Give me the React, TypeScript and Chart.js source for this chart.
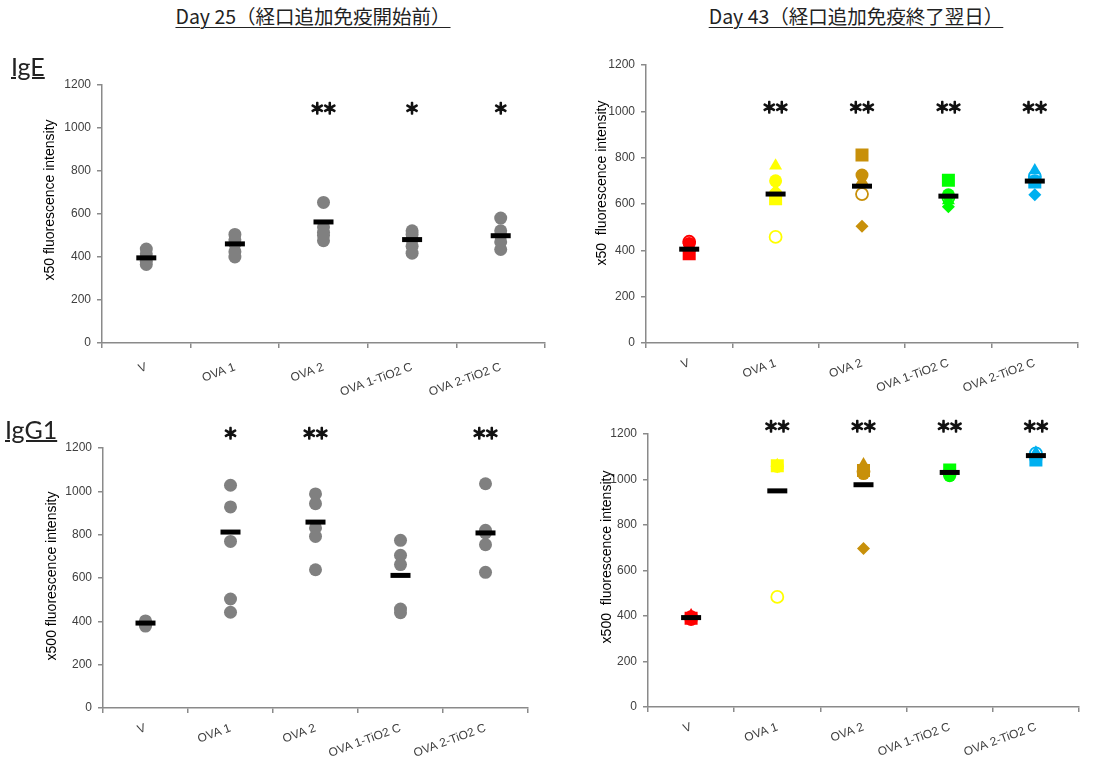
import React, { useEffect, useRef } from 'react';
import { Chart, registerables } from 'chart.js';

Chart.register(...registerables);

// ---------- data ----------
const categories = ['V', 'OVA 1', 'OVA 2', 'OVA 1-TiO2 C', 'OVA 2-TiO2 C'];
const yMax = 1200;
const yStep = 200;

// Day 25 (gray dots), one inner array per category
const day25IgE = [
  [437, 415, 395, 380, 365],
  [505, 480, 460, 425, 400],
  [654, 540, 515, 500, 476],
  [522, 505, 480, 450, 418],
  [581, 522, 500, 470, 435],
];
const day25IgEMean = [396, 461, 563, 481, 499];
const day25IgEStars = ['', '', '**', '*', '*'];

const day25IgG1 = [
  [402, 395, 390, 385, 378],
  [1028, 928, 769, 503, 442],
  [988, 943, 831, 792, 638],
  [774, 705, 662, 457, 440],
  [1035, 820, 808, 754, 626],
];
const day25IgG1Mean = [392, 812, 858, 612, 808];
const day25IgG1Stars = ['', '*', '**', '', '**'];

// Day 43 (individual markers). Order of values inside each group follows markerShapes
const markerShapes = ['triangle', 'circle', 'rect', 'openCircle', 'rectRot'];
const groupColors = ['#FF0000', '#FFFF00', '#C8900A', '#00FF00', '#00B0F0'];

const day43IgE = [
  [410, 430, 385, 437, 395],
  [765, 700, 623, 458, 655],
  [700, 725, 811, 643, 504],
  [615, 640, 703, 628, 588],
  [745, 700, 695, 718, 640],
];
const day43IgEMean = [405, 643, 677, 634, 699];
const day43IgEStars = ['', '**', '**', '**', '**'];

const day43IgG1 = [
  [402, 385, 390, 395, 392],
  [1063, 1058, 1060, 484, 1056],
  [1066, 1026, 1040, 1035, 697],
  [1035, 1017, 1042, 1030, 1025],
  [1118, 1090, 1086, 1115, 1090],
];
const day43IgG1Mean = [393, 950, 977, 1031, 1105];
const day43IgG1Stars = ['', '**', '**', '**', '**'];

// ---------- styling ----------
const axisColor = '#8a8a8a';
const tickColor = '#404040';
const tickFamily = '"Liberation Sans", Arial, sans-serif';
const grayDot = '#808080';

const shapeStyle: Record<string, { style: string; radius: number; fill: boolean; bw: number }> = {
  triangle: { style: 'triangle', radius: 7.5, fill: true, bw: 0 },
  circle: { style: 'circle', radius: 6.5, fill: true, bw: 0 },
  rect: { style: 'rect', radius: 9.2, fill: true, bw: 0 },
  openCircle: { style: 'circle', radius: 6, fill: false, bw: 1.8 },
  rectRot: { style: 'rectRot', radius: 6.5, fill: true, bw: 0 },
};

function toPoints(values: number[]) {
  return values.map((v, i) => ({ x: categories[i], y: v }));
}

function grayDatasets(groups: number[][]) {
  const data: { x: string; y: number }[] = [];
  groups.forEach((arr, i) => arr.forEach((v) => data.push({ x: categories[i], y: v })));
  return [
    {
      data,
      pointStyle: 'circle',
      pointRadius: 6.5,
      pointBackgroundColor: grayDot,
      pointBorderWidth: 0,
      showLine: false,
      order: 2,
    },
  ];
}

function markerDatasets(groups: number[][]) {
  return groups.map((arr, i) => ({
    data: arr.map((v) => ({ x: categories[i], y: v })),
    pointStyle: markerShapes.map((s) => shapeStyle[s].style),
    pointRadius: markerShapes.map((s) => shapeStyle[s].radius),
    pointBackgroundColor: markerShapes.map((s) => (shapeStyle[s].fill ? groupColors[i] : 'rgba(255,255,255,0)')),
    pointBorderColor: groupColors[i],
    pointBorderWidth: markerShapes.map((s) => shapeStyle[s].bw),
    showLine: false,
    order: 2,
  }));
}

function meanDataset(means: number[]) {
  return {
    data: toPoints(means),
    pointStyle: 'line',
    pointRadius: 10,
    pointBorderWidth: 5,
    pointBorderColor: '#000',
    pointBackgroundColor: '#000',
    showLine: false,
    order: 0,
  };
}

type PanelSpec = {
  left: number;
  top: number;
  w: number;
  h: number;
  yW: number;
  xH: number;
  padTop: number;
  padRight: number;
  xPad: number;
  title: string;
  titleX: number;
  titleY: number;
  stars: string[];
  starValue: number;
  datasets: any[];
};

function makeOverlay(spec: PanelSpec) {
  return {
    id: 'overlay',
    afterDraw(chart: any) {
      const { ctx } = chart;
      const xs = chart.scales.x;
      const ys = chart.scales.y;
      ctx.save();
      ctx.fillStyle = '#000';
      ctx.font = `14px ${tickFamily}`;
      ctx.translate(spec.titleX, spec.titleY);
      ctx.rotate(-Math.PI / 2);
      ctx.textAlign = 'center';
      ctx.textBaseline = 'middle';
      ctx.fillText(spec.title, 0, 0);
      ctx.restore();

      ctx.save();
      ctx.fillStyle = '#111';
      ctx.strokeStyle = '#111';
      ctx.lineWidth = 1.3;
      ctx.lineJoin = 'round';
      ctx.font = 'bold 15px "Noto Sans CJK JP", "DejaVu Sans", sans-serif';
      ctx.textAlign = 'center';
      ctx.textBaseline = 'middle';
      spec.stars.forEach((s, i) => {
        const n = s.length;
        if (!n) return;
        const cx = xs.getPixelForValue(i);
        const cy = ys.getPixelForValue(spec.starValue);
        for (let k = 0; k < n; k++) {
          const dx = (k - (n - 1) / 2) * 12.5;
          ctx.fillText('＊', cx + dx, cy);
          ctx.strokeText('＊', cx + dx, cy);
        }
      });
      ctx.restore();
    },
  };
}

function buildConfig(spec: PanelSpec): any {
  return {
    type: 'scatter',
    data: { labels: categories, datasets: spec.datasets },
    options: {
      responsive: false,
      animation: false,
      layout: { padding: { left: 0, top: spec.padTop, right: spec.padRight, bottom: 0 } },
      plugins: { legend: { display: false }, tooltip: { enabled: false } },
      scales: {
        x: {
          type: 'category',
          labels: categories,
          offset: true,
          grid: {
            offset: true,
            drawOnChartArea: false,
            drawTicks: true,
            tickLength: 5,
            color: axisColor,
            lineWidth: 1.5,
          },
          border: { color: axisColor, width: 1.5 },
          ticks: {
            minRotation: 20,
            maxRotation: 20,
            autoSkip: false,
            padding: spec.xPad,
            color: tickColor,
            font: { family: tickFamily, size: 12 },
          },
          afterFit: (s: any) => {
            s.height = spec.xH;
          },
        },
        y: {
          type: 'linear',
          min: 0,
          max: yMax,
          ticks: {
            stepSize: yStep,
            padding: 6,
            color: tickColor,
            font: { family: tickFamily, size: 12 },
            callback: (v: any) => String(v),
          },
          grid: {
            drawOnChartArea: false,
            drawTicks: true,
            tickLength: 5,
            color: axisColor,
            lineWidth: 1.5,
          },
          border: { color: axisColor, width: 1.5 },
          afterFit: (s: any) => {
            s.width = spec.yW;
          },
        },
      },
    },
    plugins: [makeOverlay(spec)],
  };
}

function Panel({ spec }: { spec: PanelSpec }) {
  const ref = useRef<HTMLCanvasElement | null>(null);
  useEffect(() => {
    if (!ref.current) return;
    const chart = new Chart(ref.current, buildConfig(spec));
    return () => chart.destroy();
  }, []);
  return (
    <canvas
      ref={ref}
      width={spec.w}
      height={spec.h}
      style={{ position: 'absolute', left: spec.left, top: spec.top, width: spec.w, height: spec.h }}
    />
  );
}

const panels: PanelSpec[] = [
  {
    left: 30, top: 70, w: 530, h: 340, yW: 72, xH: 67, padTop: 14, padRight: 13, xPad: 12,
    title: 'x50 fluorescence intensity', titleX: 20, titleY: 130,
    stars: day25IgEStars, starValue: 1090,
    datasets: [meanDataset(day25IgEMean), ...grayDatasets(day25IgE)],
  },
  {
    left: 580, top: 50, w: 514, h: 360, yW: 66, xH: 67, padTop: 15, padRight: 16, xPad: 8,
    title: 'x50  fluorescence intensity', titleX: 22, titleY: 133,
    stars: day43IgEStars, starValue: 1018,
    datasets: [meanDataset(day43IgEMean), ...markerDatasets(day43IgE)],
  },
  {
    left: 30, top: 410, w: 530, h: 355, yW: 73, xH: 57, padTop: 38, padRight: 32, xPad: 8,
    title: 'x500 fluorescence intensity', titleX: 22, titleY: 166,
    stars: day25IgG1Stars, starValue: 1270,
    datasets: [meanDataset(day25IgG1Mean), ...grayDatasets(day25IgG1)],
  },
  {
    left: 580, top: 410, w: 514, h: 355, yW: 68, xH: 58, padTop: 24, padRight: 11, xPad: 8,
    title: 'x500  fluorescence intensity', titleX: 27, titleY: 147,
    stars: day43IgG1Stars, starValue: 1235,
    datasets: [meanDataset(day43IgG1Mean), ...markerDatasets(day43IgG1)],
  },
];

const headingStyle: React.CSSProperties = {
  position: 'absolute',
  transform: 'translateX(-50%)',
  whiteSpace: 'nowrap',
  fontFamily: '"Noto Sans CJK JP", sans-serif',
  fontSize: 19.5,
  lineHeight: '20px',
  color: '#222',
  textDecoration: 'underline',
  textDecorationThickness: '1px',
  textUnderlineOffset: '3px',
};

const labelStyle: React.CSSProperties = {
  position: 'absolute',
  whiteSpace: 'nowrap',
  fontFamily: 'Lato, "Open Sans", sans-serif',
  fontSize: 25,
  lineHeight: '25px',
  color: '#222',
  textDecoration: 'underline',
  textDecorationThickness: '1.5px',
};

export default function App() {
  return (
    <div style={{ position: 'absolute', left: 0, top: 0, width: 1094, height: 765, background: '#fff', overflow: 'hidden' }}>
      {panels.map((p, i) => (
        <Panel key={i} spec={p} />
      ))}
      <div style={{ ...headingStyle, left: 313, top: 6 }}>Day 25（経口追加免疫開始前）</div>
      <div style={{ ...headingStyle, left: 856, top: 6 }}>Day 43（経口追加免疫終了翌日）</div>
      <div style={{ ...labelStyle, left: 11, top: 54 }}>IgE</div>
      <div style={{ ...labelStyle, left: 5, top: 417 }}>IgG1</div>
    </div>
  );
}
